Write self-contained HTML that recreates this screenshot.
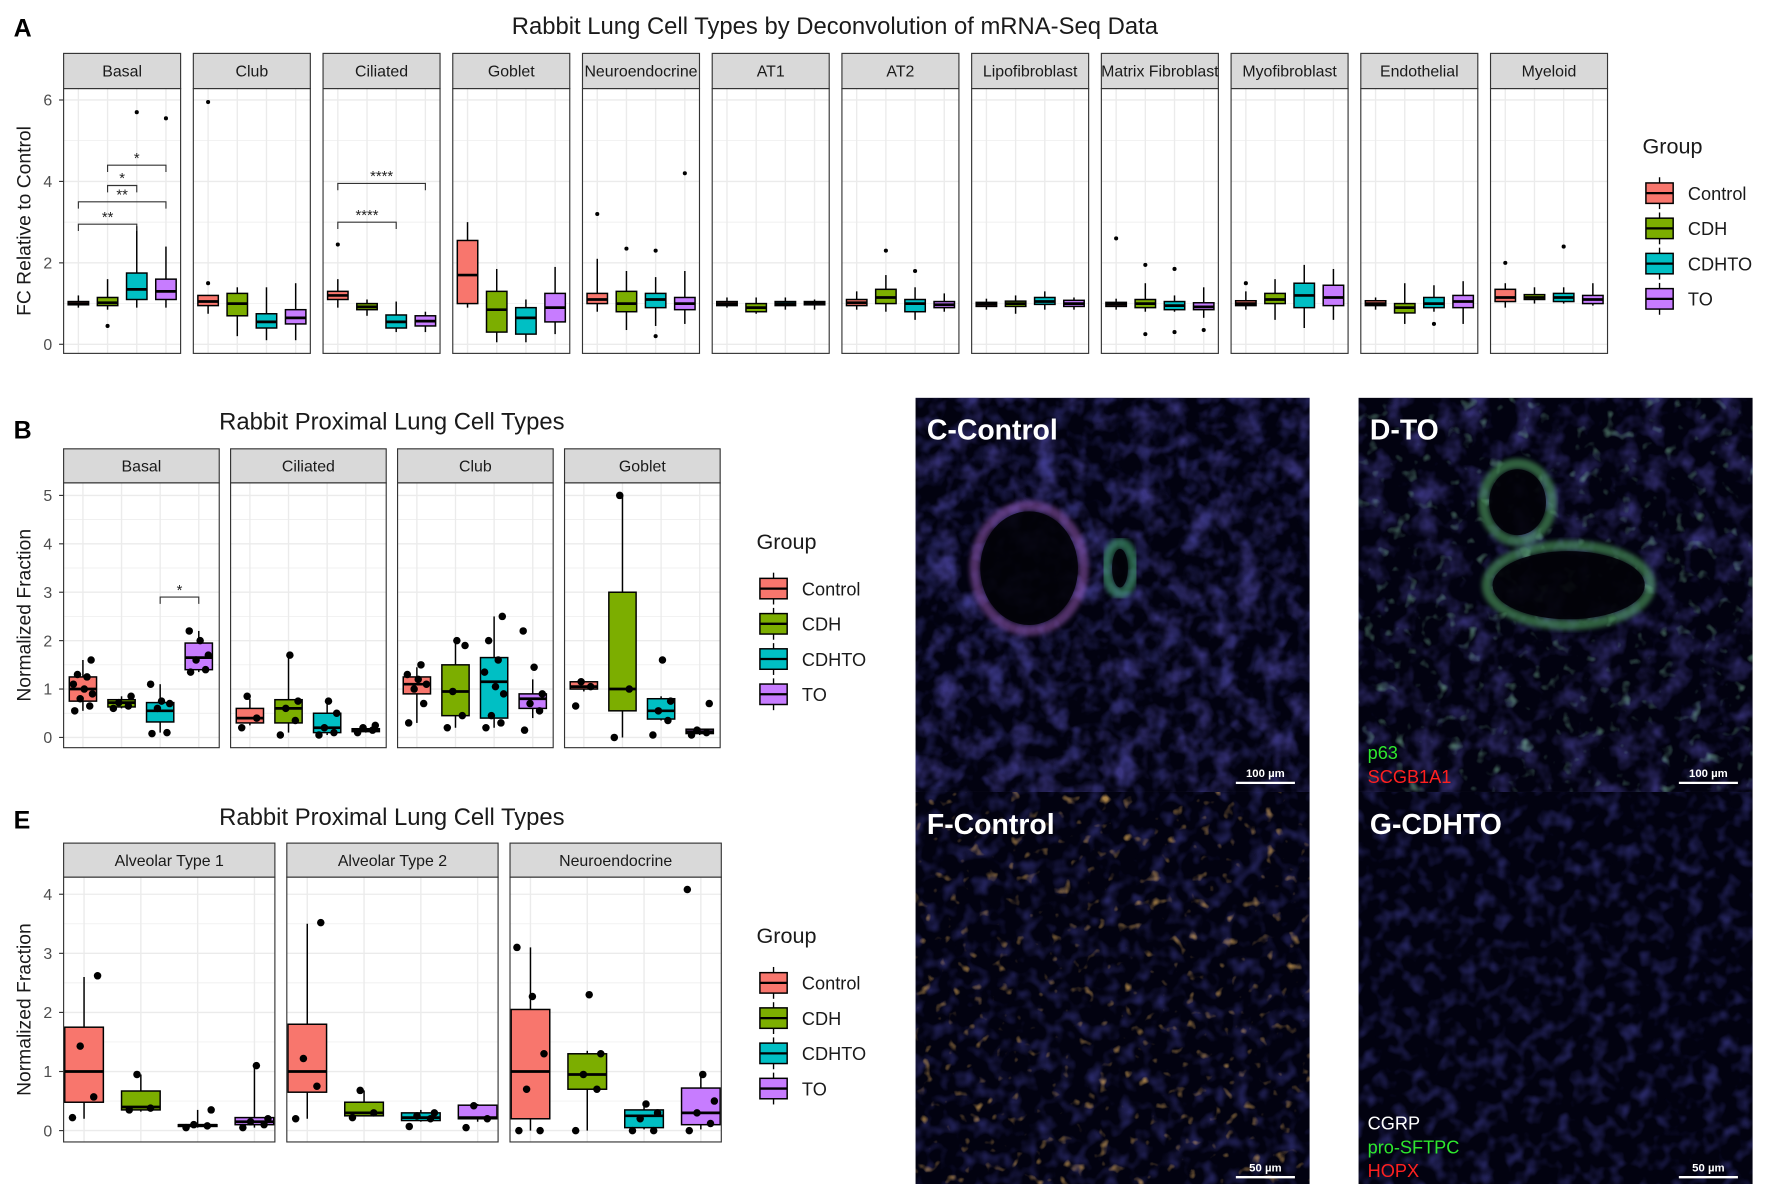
<!DOCTYPE html>
<html><head><meta charset="utf-8"><style>
html,body{margin:0;padding:0;background:#fff;}
svg{display:block;font-family:"Liberation Sans",sans-serif;}
</style></head><body>
<svg id="fig" width="1772" height="1184" viewBox="0 0 1560 1042" preserveAspectRatio="none" xmlns="http://www.w3.org/2000/svg">
<defs>
<filter id="texBlue" x="0" y="0" width="100%" height="100%">
  <feTurbulence type="fractalNoise" baseFrequency="0.045" numOctaves="3" seed="4"/>
  <feColorMatrix values="0 0 0 0 0.12  0 0 0 0 0.1  0 0 0 0 0.6  2.4 0 0 0 -1.1"/>
</filter>
<filter id="texBlue2" x="0" y="0" width="100%" height="100%">
  <feTurbulence type="fractalNoise" baseFrequency="0.07" numOctaves="2" seed="9"/>
  <feColorMatrix values="0 0 0 0 0.08  0 0 0 0 0.08  0 0 0 0 0.5  2.0 0 0 0 -0.95"/>
</filter>
<filter id="texOrange" x="0" y="0" width="100%" height="100%">
  <feTurbulence type="fractalNoise" baseFrequency="0.09" numOctaves="2" seed="2"/>
  <feColorMatrix values="0 0 0 0 0.9  0 0 0 0 0.5  0 0 0 0 0.12  4 0 0 0 -2.6"/>
</filter>
<filter id="texGreen" x="0" y="0" width="100%" height="100%">
  <feTurbulence type="fractalNoise" baseFrequency="0.08" numOctaves="2" seed="7"/>
  <feColorMatrix values="0 0 0 0 0.25  0 0 0 0 0.6  0 0 0 0 0.4  3.5 0 0 0 -2.2"/>
</filter>
<filter id="blurS"><feGaussianBlur stdDeviation="2"/></filter>
</defs>
<g id="root"></g>
</svg>
<script>
// ---------- DATA ----------
const groups = ["Control","CDH","CDHTO","TO"];
const groupColors = ["#F8766D","#7CAE00","#00BFC4","#C77CFF"];

// Panel A: each facet -> [lo,q1,med,q3,hi] per group
const aFacets = ["Basal","Club","Ciliated","Goblet","Neuroendocrine","AT1","AT2","Lipofibroblast","Matrix Fibroblast","Myofibroblast","Endothelial","Myeloid"];
const aStats = [
 [[0.9,0.97,1.0,1.05,1.2],[0.85,0.95,1.02,1.15,1.6],[0.9,1.1,1.35,1.75,2.9],[0.9,1.1,1.3,1.6,2.4]],
 [[0.75,0.95,1.05,1.2,1.2],[0.2,0.7,1.0,1.25,1.4],[0.1,0.4,0.55,0.75,1.4],[0.1,0.5,0.65,0.85,1.5]],
 [[0.9,1.1,1.2,1.3,1.6],[0.7,0.85,0.92,1.0,1.1],[0.3,0.4,0.55,0.72,1.05],[0.3,0.45,0.57,0.7,0.8]],
 [[0.9,1.0,1.7,2.55,3.0],[0.05,0.3,0.85,1.3,1.85],[0.05,0.25,0.65,0.9,1.1],[0.25,0.55,0.9,1.25,1.9]],
 [[0.8,1.0,1.1,1.25,2.1],[0.35,0.8,1.0,1.3,1.8],[0.45,0.9,1.1,1.25,1.65],[0.5,0.85,1.0,1.15,1.8]],
 [[0.9,0.95,1.0,1.05,1.15],[0.75,0.8,0.9,1.0,1.15],[0.85,0.95,1.0,1.05,1.15],[0.85,0.97,1.02,1.05,1.1]],
 [[0.85,0.95,1.02,1.1,1.3],[0.8,1.0,1.15,1.35,1.7],[0.6,0.8,1.0,1.1,1.4],[0.8,0.9,0.97,1.05,1.25]],
 [[0.85,0.93,0.98,1.03,1.12],[0.75,0.93,1.0,1.06,1.2],[0.85,0.98,1.05,1.15,1.3],[0.85,0.93,1.0,1.08,1.15]],
 [[0.85,0.93,0.98,1.03,1.12],[0.8,0.9,1.0,1.1,1.5],[0.8,0.85,0.95,1.05,1.2],[0.65,0.85,0.92,1.02,1.4]],
 [[0.85,0.95,1.0,1.07,1.3],[0.6,1.0,1.1,1.25,1.6],[0.4,0.9,1.2,1.5,1.95],[0.6,0.95,1.15,1.45,1.85]],
 [[0.85,0.95,1.0,1.07,1.15],[0.5,0.77,0.9,1.0,1.5],[0.8,0.9,1.0,1.15,1.45],[0.5,0.9,1.05,1.2,1.55]],
 [[0.9,1.05,1.15,1.35,1.5],[1.0,1.1,1.15,1.22,1.4],[1.0,1.05,1.15,1.25,1.4],[0.95,1.0,1.1,1.2,1.5]]
];
const aOutliers = [
 [[],[0.45],[5.7],[5.55]],
 [[5.95,1.5],[],[],[]],
 [[2.45],[],[],[]],
 [[],[],[],[]],
 [[3.2],[2.35],[2.3,0.2],[4.2]],
 [[],[],[],[]],
 [[],[2.3],[1.8],[]],
 [[],[],[],[]],
 [[2.6],[1.95,0.25],[1.85,0.3],[0.35]],
 [[1.5],[],[],[]],
 [[],[],[0.5],[]],
 [[2.0],[],[2.4],[]]
];
const aYTicks = [0,2,4,6];
// significance: [facetIndex, groupA, groupB, yValue, label]
const aSig = [[0,0,2,2.95,"**"],[0,0,3,3.5,"**"],[0,1,2,3.9,"*"],[0,1,3,4.4,"*"],[2,0,2,3.0,"****"],[2,0,3,3.95,"****"]];

// Panel B
const bFacets = ["Basal","Ciliated","Club","Goblet"];
const bStats = [
 [[0.55,0.75,1.0,1.25,1.6],[0.6,0.63,0.72,0.78,0.85],[0.1,0.32,0.55,0.72,1.1],[1.35,1.4,1.65,1.95,2.2]],
 [[0.25,0.3,0.4,0.6,0.8],[0.1,0.3,0.6,0.78,1.7],[0.05,0.1,0.2,0.5,0.75],[0.1,0.12,0.15,0.18,0.22]],
 [[0.3,0.9,1.1,1.25,1.45],[0.2,0.45,0.95,1.5,2.0],[0.2,0.4,1.15,1.65,2.5],[0.4,0.6,0.8,0.9,1.2]],
 [[0.95,1.0,1.05,1.15,1.15],[0.0,0.55,1.0,3.0,5.0],[0.35,0.38,0.55,0.8,0.85],[0.05,0.08,0.12,0.17,0.2]]
];
const bPoints = [
 [[0.55,0.65,0.8,0.9,1.0,1.1,1.25,1.3,1.6],[0.6,0.65,0.72,0.85],[0.08,0.1,0.6,0.7,0.75,1.1],[1.35,1.4,1.6,1.7,2.0,2.2]],
 [[0.2,0.4,0.85],[0.05,0.35,0.6,0.75,1.7],[0.05,0.1,0.2,0.5,0.75],[0.1,0.15,0.2,0.25]],
 [[0.3,0.7,1.0,1.1,1.2,1.3,1.5],[0.2,0.45,0.95,1.9,2.0],[0.2,0.3,0.45,0.9,1.05,1.35,1.6,2.0,2.5],[0.15,0.55,0.7,0.9,1.45,2.2]],
 [[0.65,1.05,1.15],[0.0,1.0,5.0],[0.05,0.35,0.55,0.75,1.6],[0.05,0.1,0.15,0.7]]
];
const bYTicks = [0,1,2,3,4,5];
const bSig = [[0,2,3,2.9,"*"]];

// Panel E
const eFacets = ["Alveolar Type 1","Alveolar Type 2","Neuroendocrine"];
const eStats = [
 [[0.2,0.48,1.0,1.75,2.6],[0.32,0.35,0.4,0.67,0.95],[0.05,0.07,0.09,0.1,0.35],[0.05,0.1,0.15,0.22,1.1]],
 [[0.2,0.65,1.0,1.8,3.5],[0.25,0.25,0.3,0.48,0.68],[0.15,0.17,0.22,0.3,0.35],[0.15,0.2,0.22,0.43,0.45]],
 [[0.0,0.2,1.0,2.05,3.1],[0.0,0.7,0.95,1.3,1.35],[0.02,0.05,0.25,0.35,0.45],[0.02,0.1,0.3,0.72,0.95]]
];
const ePoints = [
 [[0.22,0.57,1.43,2.62],[0.35,0.38,0.95],[0.05,0.08,0.1,0.35],[0.05,0.1,0.15,0.2,1.1]],
 [[0.2,0.75,1.22,3.52],[0.22,0.3,0.68],[0.07,0.2,0.25,0.3],[0.05,0.2,0.42]],
 [[0.0,0.0,0.7,1.3,2.27,3.1],[0.0,0.7,0.95,1.3,2.3],[0.0,0.0,0.2,0.3,0.45],[0.0,0.12,0.3,0.5,0.95,4.08]]
];
const eYTicks = [0,1,2,3,4];

// ---------- DRAW ----------
const NS = "http://www.w3.org/2000/svg";
const root = document.getElementById("root");
function mk(tag, attrs, parent){
  const e = document.createElementNS(NS, tag);
  for (const k in attrs) e.setAttribute(k, attrs[k]);
  (parent||root).appendChild(e);
  return e;
}
function txt(s, attrs, parent){ const t = mk("text", attrs, parent); t.textContent = s; return t; }

function facetPanel(spec){
  const g = mk("g", {});
  
  
  const yScale = v => spec.y0 + (spec.y1 - spec.y0) * (v - spec.vmin) / (spec.vmax - spec.vmin);
  spec.facets.forEach((fname, fi) => {
    const left = spec.left + fi * (spec.w + spec.gap);
    const fg = mk("g", {}, g);
    
    
    const st = mk("rect", {x:left, y:spec.stripTop, width:spec.w, height:spec.panelTop-spec.stripTop, fill:"#d9d9d9", stroke:"#333", "stroke-width":1}, fg);
    
    
    const clipId = spec.name + "c" + fi;
    const cp = mk("clipPath", {id: clipId}, fg);
    mk("rect", {x:left, y:spec.stripTop, width:spec.w, height:spec.panelTop-spec.stripTop}, cp);
    const sl = txt(fname, {x:left+spec.w/2, y:(spec.stripTop+spec.panelTop)/2+5, "text-anchor":"middle", "font-size":spec.stripFont, fill:"#1a1a1a", "clip-path":"url(#"+clipId+")"}, fg);
    
    
    mk("rect", {x:left, y:spec.panelTop, width:spec.w, height:spec.panelBot-spec.panelTop, fill:"#fff"}, fg);
    const step = spec.ticks[1]-spec.ticks[0];
    for (let v = spec.vmin; v <= spec.vmax + 1e-9; v += step/2){
      const y = yScale(v);
      if (y < spec.panelTop || y > spec.panelBot) continue;
      const major = Math.abs(Math.round(v/step)*step - v) < 1e-6;
      mk("line", {x1:left, x2:left+spec.w, y1:y, y2:y, stroke:"#ebebeb", "stroke-width": major?1.2:0.6}, fg);
    }
    const xPos = gi => left + spec.cat0 + gi * spec.catStep;
    groups.forEach((gn, gi) => {
      mk("line", {x1:xPos(gi), x2:xPos(gi), y1:spec.panelTop, y2:spec.panelBot, stroke:"#ebebeb", "stroke-width":1.2}, fg);
    });
    spec.stats[fi].forEach((s, gi) => {
      const cx = xPos(gi), bw = spec.boxW;
      const bg = mk("g", {}, fg);
      
      
      mk("line", {x1:cx, x2:cx, y1:yScale(s[0]), y2:yScale(s[4]), stroke:"#000", "stroke-width":1.3}, bg);
      const q3y = yScale(s[3]), q1y = yScale(s[1]);
      mk("rect", {x:cx-bw/2, y:q3y, width:bw, height:Math.max(q1y-q3y,1.5), fill:groupColors[gi], stroke:"#000", "stroke-width":1.3}, bg);
      mk("line", {x1:cx-bw/2, x2:cx+bw/2, y1:yScale(s[2]), y2:yScale(s[2]), stroke:"#000", "stroke-width":2.4}, bg);
      const pts = spec.points[fi][gi];
      const jit = [-0.3,0.25,-0.1,0.35,0.05,-0.35,0.15,-0.2,0.3,-0.05,0.2];
      pts.forEach((p, pi) => {
        const dx = spec.jitter ? jit[pi % jit.length] * bw : 0;
        const c = mk("circle", {cx:cx+dx, cy:yScale(p), r:spec.ptR, fill:"#000"}, bg);
        
        
      });
    });
    (spec.sig||[]).filter(s => s[0]===fi).forEach(s => {
      const xa = xPos(s[1]), xb = xPos(s[2]), y = yScale(s[3]);
      const sg = mk("g", {}, fg);
      
      
      mk("path", {d:`M${xa},${y+6}V${y}H${xb}V${y+6}`, fill:"none", stroke:"#333", "stroke-width":1}, sg);
      txt(s[4], {x:(xa+xb)/2, y:y-2, "text-anchor":"middle", "font-size":13, fill:"#222"}, sg);
    });
    mk("rect", {x:left, y:spec.panelTop, width:spec.w, height:spec.panelBot-spec.panelTop, fill:"none", stroke:"#333", "stroke-width":1}, fg);
  });
  spec.ticks.forEach(t => {
    const y = yScale(t);
    const tl = txt(String(t), {x:spec.left-10, y:y+5, "text-anchor":"end", "font-size":14, fill:"#4d4d4d"}, g);
    
    
    mk("line", {x1:spec.left-4, x2:spec.left, y1:y, y2:y, stroke:"#333"}, g);
  });
  const ym = (spec.panelTop + spec.panelBot)/2;
  const yt = txt(spec.ytitle, {x:0, y:0, transform:`translate(27,${ym}) rotate(-90)`, "text-anchor":"middle", "font-size":17, fill:"#1a1a1a"}, g);
  
  
  const tt = txt(spec.title, {x:spec.titleX, y:spec.titleY, "text-anchor":"middle", "font-size":spec.titleFont, fill:"#1a1a1a"}, g);
  
  
  const pl = txt(spec.letter, {x:12, y:spec.letterY, "font-size":22, "font-weight":"bold", fill:"#000"}, g);
  
  
  const lg = mk("g", {}, g);
  
  
  txt("Group", {x:spec.legX, y:spec.legY, "font-size":19, fill:"#1a1a1a"}, lg);
  groups.forEach((gn, gi) => {
    const y = spec.legY + 35 + gi*31;
    const le = mk("g", {}, lg);
    
    
    const kx = spec.legX + 15;
    mk("line", {x1:kx, x2:kx, y1:y-14, y2:y+14, stroke:"#000", "stroke-width":1.2}, le);
    mk("rect", {x:kx-12, y:y-9, width:24, height:18, fill:groupColors[gi], stroke:"#000", "stroke-width":1.3}, le);
    mk("line", {x1:kx-12, x2:kx+12, y1:y, y2:y, stroke:"#000", "stroke-width":2}, le);
    txt(gn, {x:spec.legX+40, y:y+6, "font-size":16, fill:"#1a1a1a"}, le);
  });
}

facetPanel({name:"panel-a", facets:aFacets, stats:aStats, points:aOutliers, sig:aSig, ticks:aYTicks,
  left:56, w:103, gap:11.2, stripTop:47, panelTop:78, panelBot:311, vmin:0, vmax:6, y0:303, y1:88,
  cat0:13, catStep:25.7, boxW:18, ptR:1.8, jitter:false, stripFont:14,
  ytitle:"FC Relative to Control", title:"Rabbit Lung Cell Types by Deconvolution of mRNA-Seq Data",
  titleX:735, titleY:30, titleFont:21, letter:"A", letterY:32, legX:1446, legY:135});
facetPanel({name:"panel-b", facets:bFacets, stats:bStats, points:bPoints, sig:bSig, ticks:bYTicks,
  left:56, w:137, gap:10, stripTop:395, panelTop:425, panelBot:658, vmin:0, vmax:5, y0:649, y1:436,
  cat0:17, catStep:34, boxW:24, ptR:3.3, jitter:true, stripFont:14,
  ytitle:"Normalized Fraction", title:"Rabbit Proximal Lung Cell Types",
  titleX:345, titleY:378, titleFont:21, letter:"B", letterY:386, legX:666, legY:483});
facetPanel({name:"panel-e", facets:eFacets, stats:eStats, points:ePoints, ticks:eYTicks,
  left:56, w:186, gap:10.5, stripTop:742, panelTop:772, panelBot:1005, vmin:0, vmax:4, y0:995, y1:787,
  cat0:18, catStep:50, boxW:34, ptR:3.3, jitter:true, stripFont:14,
  ytitle:"Normalized Fraction", title:"Rabbit Proximal Lung Cell Types",
  titleX:345, titleY:726, titleFont:21, letter:"E", letterY:729, legX:666, legY:830});

// ---------- MICROSCOPY IMAGES ----------
const imgPanels = [
 {name:"image-c-control", x:806, y:350, label:"C-Control", scale:"100 µm", tex:[["texBlue",0.6],["texBlue2",0.5]],
  rings:[[100,150,48,55,"#a060c0"],[180,150,12,22,"#50c080"]], legend:[]},
 {name:"image-d-to", x:1196, y:350, label:"D-TO", scale:"100 µm", tex:[["texBlue",0.55],["texGreen",0.6]],
  rings:[[140,92,30,34,"#60c070"],[185,165,72,35,"#60c070"]], legend:[["p63","#2ee82e"],["SCGB1A1","#ff2020"]]},
 {name:"image-f-control", x:806, y:697, label:"F-Control", scale:"50 µm", tex:[["texBlue2",0.6],["texOrange",0.7]],
  rings:[], legend:[]},
 {name:"image-g-cdhto", x:1196, y:697, label:"G-CDHTO", scale:"50 µm", tex:[["texBlue2",0.6]],
  rings:[], legend:[["CGRP","#ffffff"],["pro-SFTPC","#2ee82e"],["HOPX","#ff2020"]]}
];
imgPanels.forEach((p, pi) => {
  const g = mk("g", {});
  
  
  const W = 347, H = 347;
  const cid = "imgclip" + pi;
  const cp = mk("clipPath", {id:cid}, g);
  mk("rect", {x:p.x, y:p.y, width:W, height:H}, cp);
  const ig = mk("g", {"clip-path":"url(#"+cid+")"}, g);
  mk("rect", {x:p.x, y:p.y, width:W, height:H, fill:"#020210"}, ig);
  p.tex.forEach(t => mk("rect", {x:p.x, y:p.y, width:W, height:H, filter:"url(#"+t[0]+")", opacity:t[1]}, ig));
  p.rings.forEach(r => {
    mk("ellipse", {cx:p.x+r[0], cy:p.y+r[1], rx:r[2], ry:r[3], fill:"none", stroke:r[4], "stroke-width":9, opacity:0.5, filter:"url(#blurS)"}, ig);
    mk("ellipse", {cx:p.x+r[0], cy:p.y+r[1], rx:r[2]-5, ry:r[3]-5, fill:"#020208", opacity:0.9}, ig);
  });
  const l = txt(p.label, {x:p.x+10, y:p.y+37, "font-size":25, "font-weight":"bold", fill:"#fff"}, g);
  
  
  mk("line", {x1:p.x+282, x2:p.x+334, y1:p.y+339, y2:p.y+339, stroke:"#fff", "stroke-width":2}, g);
  txt(p.scale, {x:p.x+308, y:p.y+334, "text-anchor":"middle", "font-size":10, "font-weight":"bold", fill:"#fff"}, g);
  const n = p.legend.length;
  p.legend.forEach((lg, i) => {
    txt(lg[0], {x:p.x+8, y:p.y+H - 8 - (n-1-i)*21, "font-size":16, fill:lg[1]}, g);
  });
});
</script>
</body></html>
